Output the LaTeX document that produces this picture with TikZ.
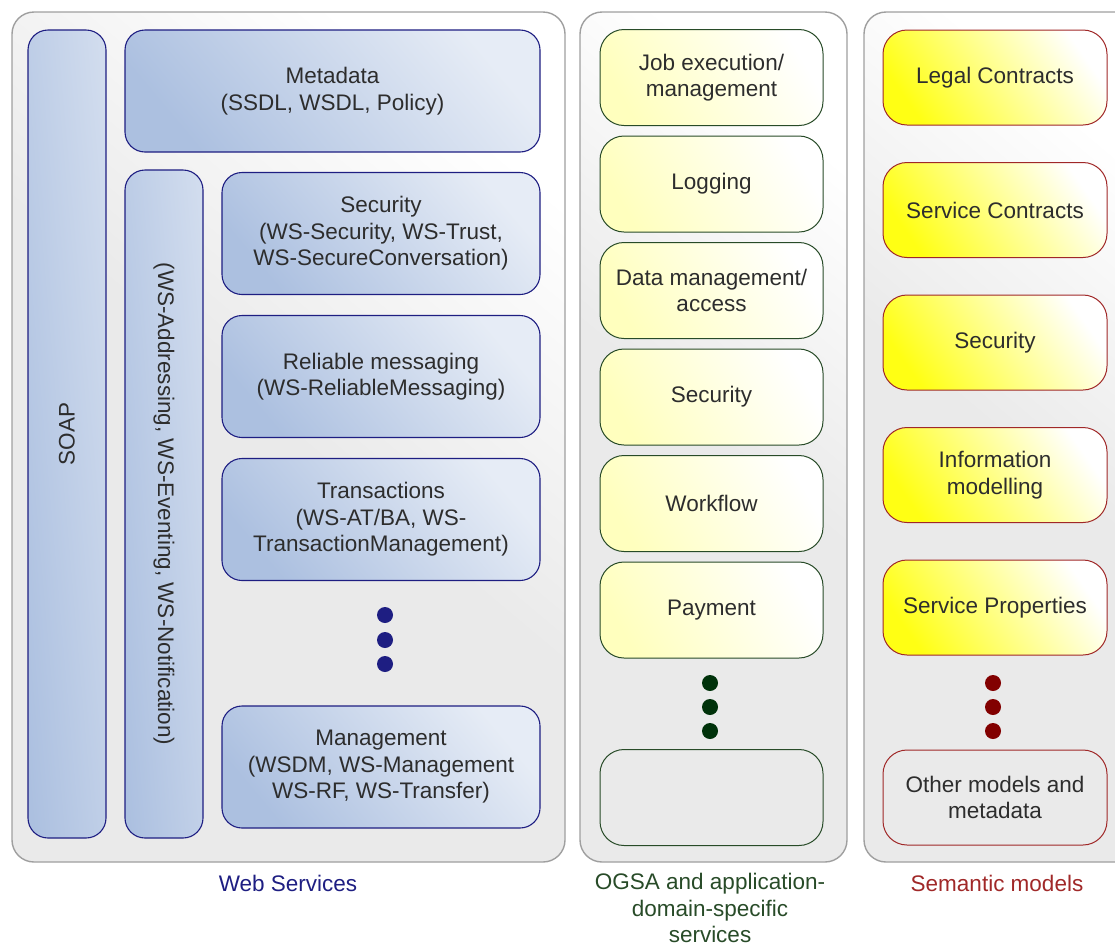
\documentclass[tikz,border=0pt]{standalone}
\usepackage{fontspec}
\setmainfont{Liberation Sans}
\usetikzlibrary{positioning}

\definecolor{wsline}{RGB}{30,30,130}
\definecolor{wsdark}{RGB}{172,192,224}
\definecolor{ogsaline}{RGB}{40,75,40}
\definecolor{ogsadot}{RGB}{0,50,10}
\definecolor{ogsalight}{RGB}{255,255,190}
\definecolor{semline}{RGB}{160,40,40}
\definecolor{semdot}{RGB}{130,0,0}
\definecolor{semyellow}{RGB}{255,255,20}
\definecolor{panelgray}{RGB}{234,234,234}
\definecolor{textgray}{RGB}{45,45,45}

\tikzset{
  x=1pt, y=-1pt,
  every node/.style = {font=\fontsize{22.5}{26.5}\selectfont, text=textgray,
                       align=center, outer sep=0pt},
  panel/.style   = {shape=rectangle, rounded corners=22pt, draw=gray!75,
                    line width=1.4pt, anchor=north west,
                    top color=white, bottom color=panelgray, middle color=panelgray,
                    shading angle=-40},
  wsbox/.style   = {shape=rectangle, rounded corners=20pt, draw=wsline,
                    line width=1.1pt, minimum width=318pt, minimum height=122pt,
                    top color=white!70!wsdark, bottom color=wsdark, shading angle=-50},
  wsbar/.style   = {wsbox, minimum width=78pt, top color=white!45!wsdark,
                    bottom color=wsdark, shading angle=-85},
  ogsabox/.style = {shape=rectangle, rounded corners=24pt, draw=ogsaline,
                    line width=1pt, minimum width=223pt, minimum height=96pt,
                    top color=white, bottom color=ogsalight, shading angle=-60},
  sembox/.style  = {ogsabox, draw=semline, minimum width=224pt, minimum height=95pt,
                    bottom color=semyellow, shading angle=-55},
  dot/.style     = {circle, inner sep=0pt, minimum size=16pt},
  caption/.style = {anchor=north}
}

\begin{document}
\begin{tikzpicture}
\useasboundingbox (0,0) rectangle (1115,946);

% panels
\node [panel, minimum width=553pt, minimum height=850pt] (webpanel) at (12,12) {};
\node [panel, minimum width=267pt, minimum height=850pt] (ogsapanel) at (580,12) {};
\node [panel, minimum width=275pt, minimum height=850pt] (sempanel) at (864,12) {};

% web services
\node [wsbar, minimum height=808pt] (soap) at (67,434) {};
\node [rotate=90] (soaptext) at (soap.center) {SOAP};
\node [wsbox, minimum width=415pt] (metadata) at (332.5,91)
  {Metadata\\(SSDL, WSDL, Policy)};
\node [wsbar, minimum height=668pt] (addressing) at (164,504) {};
\node [rotate=-90] (addrtext) at (addressing.center)
  {(WS-Addressing, WS-Eventing, WS-Notification)};
\node [wsbox] (security) at (381,233.5)
  {Security\\(WS-Security, WS-Trust,\\WS-SecureConversation)};
\node [wsbox, below=21pt of security] (reliable)
  {Reliable messaging\\(WS-ReliableMessaging)};
\node [wsbox, below=21pt of reliable] (transactions)
  {Transactions\\(WS-AT/BA, WS-\\TransactionManagement)};
\foreach \i/\y in {1/615,2/640,3/664}
  \node [dot, fill=wsline] (wsdot\i) at (385,\y) {};
\node [wsbox] (management) at (381,767)
  {Management\\(WSDM, WS-Management\\WS-RF, WS-Transfer)};
\node [caption, text=wsline] (weblabel) at (288,872) {Web Services};

% OGSA
\node [ogsabox] (job) at (711.5,77.5) {Job execution/\\management};
\node [ogsabox, below=10.5pt of job] (logging) {Logging};
\node [ogsabox, below=10.5pt of logging] (datamgmt) {Data management/\\access};
\node [ogsabox, below=10.5pt of datamgmt] (ogsasec) {Security};
\node [ogsabox, below=10.5pt of ogsasec] (workflow) {Workflow};
\node [ogsabox, below=10.5pt of workflow] (payment) {Payment};
\foreach \i/\y in {1/683,2/707,3/731}
  \node [dot, fill=ogsadot] (ogsadot\i) at (710,\y) {};
\node [ogsabox, top color=panelgray, bottom color=panelgray]
  (ogsaempty) at (711.5,797.5) {};
\node [caption, text=ogsaline] (ogsalabel) at (710,870)
  {OGSA and application-\\domain-specific\\services};

% semantic models
\node [sembox] (legal) at (995,77.5) {Legal Contracts};
\node [sembox, below=37.5pt of legal] (servcontr) {Service Contracts};
\node [sembox, below=37.5pt of servcontr] (semsec) {Security};
\node [sembox, below=37.5pt of semsec] (infomod) {Information\\modelling};
\node [sembox, below=37.5pt of infomod] (servprop) {Service Properties};
\foreach \i/\y in {1/683,2/707,3/731}
  \node [dot, fill=semdot] (semdot\i) at (993,\y) {};
\node [sembox, top color=panelgray, bottom color=panelgray] (othermod) at (995,797.5)
  {Other models and\\metadata};
\node [caption, text=semline] (semlabel) at (997,872) {Semantic models};
\end{tikzpicture}
\end{document}
